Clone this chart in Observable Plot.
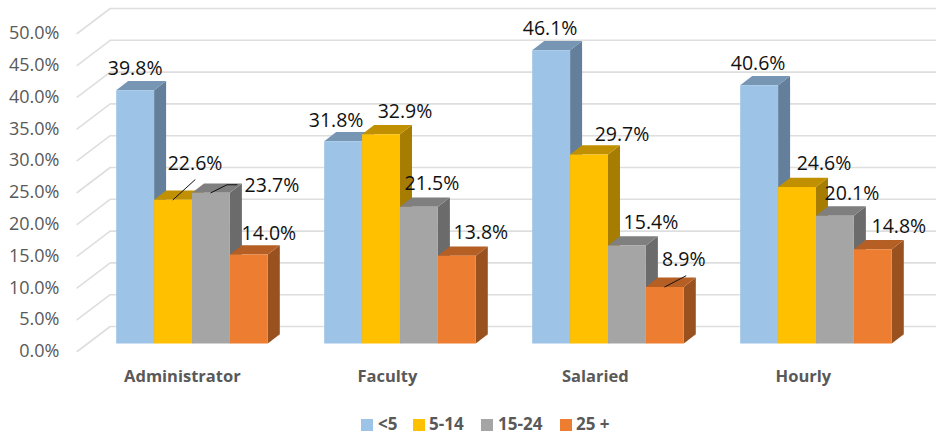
<!DOCTYPE html>
<html>
<head>
<meta charset="utf-8">
<script src="https://cdn.jsdelivr.net/npm/d3@7"></script>
<script src="https://cdn.jsdelivr.net/npm/@observablehq/plot@0.6"></script>
<style>
  html, body { margin: 0; padding: 0; background: #fff; }
  #legend { position: relative; height: 36px; font: bold 17px "Open Sans", sans-serif; color: #595959; }
  #legend i { position: absolute; top: 19px; width: 12px; height: 12px; }
  #legend span { position: absolute; top: 13px; line-height: 22px; white-space: pre; }
</style>
</head>
<body>
<div id="chart"></div>
<div id="legend"></div>
<script>
// Tenure groups by employee category
const categories = ["Administrator", "Faculty", "Salaried", "Hourly"];
const tenureGroups = ["<5", "5-14", "15-24", "25 +"];
const under5 = [39.8, 31.8, 46.1, 40.6];
const from5to14 = [22.6, 32.9, 29.7, 24.6];
const from15to24 = [23.7, 21.5, 15.4, 20.1];
const over25 = [14.0, 13.8, 8.9, 14.8];
const seriesValues = [under5, from5to14, from15to24, over25];
const tickValues = [0, 5, 10, 15, 20, 25, 30, 35, 40, 45, 50];

// Face colours per series: front, top, side
const frontColors = ["#9dc3e6", "#ffc000", "#a5a5a5", "#ed7d31"];
const topColors = ["#7696b4", "#c09000", "#7f7f7f", "#b65f25"];
const sideColors = ["#647f9b", "#a67d00", "#6b6b6b", "#9a5120"];

// Chart geometry: x is measured in bar widths, y in percentage points
const barPx = 37.9, pctPx = 6.36;
const x0 = 115.7, y0 = 343;
const groupStep = 5.488;
const depthX = 12 / barPx, depthY = 9.3 / pctPx;
const wallLeft = -39 / barPx, wallBack = -6 / barPx, wallRight = 830 / barPx;
const wallFrontY = -8 / pctPx, wallBackY = 17 / pctPx;

// Category label offsets in pixels from the group's label anchor
const categoryShift = [2.5, -0.5, -0.5, -0.5];

// Label offsets in pixels from each bar's front top centre, by category then series
const labelShiftX = [
  [0, 22, 61, 20],
  [-7, 24, 13, 24],
  [-1, 33, 24, 19],
  [-1, 27, 17, 26]
];
const labelShiftY = [
  [-22, -36, -7, -21],
  [-21, -23, -23, -23],
  [-22, -20, -23, -27],
  [-22, -23, -22, -23]
];

// Leader lines as pixel offsets from a bar's front top centre
const leaders = [
  {g: 0, s: 1, path: [[0, 0], [22, -20]]},
  {g: 0, s: 2, path: [[0, 0], [16, -8], [26, -8]]},
  {g: 2, s: 3, path: [[0, 0], [21, -11]]}
];

const barLeft = (g, s) => g * groupStep + s;

const faces = [];
categories.forEach((c, g) => {
  seriesValues.forEach((vals, s) => {
    const v = vals[g], l = barLeft(g, s), r = l + 1;
    const add = (kind, color, pts) => pts.forEach(([x, y]) => faces.push({face: `${g}-${s}-${kind}`, x, y, color}));
    add("side", sideColors[s], [[r, 0], [r + depthX, depthY], [r + depthX, v + depthY], [r, v]]);
    add("top", topColors[s], [[l, v], [l + depthX, v + depthY], [r + depthX, v + depthY], [r, v]]);
    add("front", frontColors[s], [[l, 0], [l, v], [r, v], [r, 0]]);
  });
});

const gridPoints = tickValues.flatMap(t => [
  {t, x: wallLeft, y: t + wallFrontY},
  {t, x: wallBack, y: t + wallBackY},
  {t, x: wallRight, y: t + wallBackY}
]);

const labels = categories.flatMap((c, g) => seriesValues.map((vals, s) => ({
  text: vals[g].toFixed(1) + "%",
  x: barLeft(g, s) + 0.5 + labelShiftX[g][s] / barPx,
  y: vals[g] - labelShiftY[g][s] / pctPx
})));

const leaderPoints = leaders.flatMap((d, i) => d.path.map(([px, py]) => ({
  i,
  x: barLeft(d.g, d.s) + 0.5 + px / barPx,
  y: seriesValues[d.s][d.g] - py / pctPx
})));

const chart = Plot.plot({
  width: 936,
  height: 400,
  marginLeft: 62,
  marginRight: 0,
  marginTop: 0,
  marginBottom: 0,
  style: {fontFamily: "'Open Sans', sans-serif", background: "#fff", overflow: "visible"},
  x: {type: "linear", domain: [0, 1], range: [x0, x0 + barPx], axis: null},
  y: {type: "linear", domain: [0, 50], range: [y0, y0 - 50 * pctPx], axis: null},
  marks: [
    Plot.axisY(tickValues, {
      anchor: "left",
      tickSize: 0,
      tickPadding: 3,
      dy: 8,
      fontSize: 18,
      color: "#595959",
      label: null,
      tickFormat: d => d.toFixed(1) + "%"
    }),
    Plot.line(gridPoints, {x: "x", y: "y", z: "t", stroke: "#dedede", strokeWidth: 1.6}),
    Plot.line(faces, {x: "x", y: "y", z: "face", fill: "color", stroke: "none"}),
    Plot.line(leaderPoints, {x: "x", y: "y", z: "i", stroke: "#111", strokeWidth: 1}),
    Plot.text(labels, {x: "x", y: "y", text: "text", fontSize: 19.5, fill: "#111", textAnchor: "middle"}),
    Plot.text(categories, {
      x: (c, g) => barLeft(g, 2) - 0.32 + categoryShift[g] / barPx,
      y: () => -33 / pctPx,
      text: d => d,
      fontSize: 16.5,
      fontWeight: "bold",
      fill: "#595959"
    })
  ]
});
document.getElementById("chart").appendChild(chart);

// Legend row below the plot
const legendSwatchX = [361, 413, 481, 560];
const legendLabelX = [378, 429, 498, 576];
const legend = document.getElementById("legend");
tenureGroups.forEach((name, s) => {
  const swatch = document.createElement("i");
  swatch.style.left = legendSwatchX[s] + "px";
  swatch.style.background = frontColors[s];
  const label = document.createElement("span");
  label.style.left = legendLabelX[s] + "px";
  label.textContent = name;
  legend.append(swatch, label);
});
</script>
</body>
</html>
